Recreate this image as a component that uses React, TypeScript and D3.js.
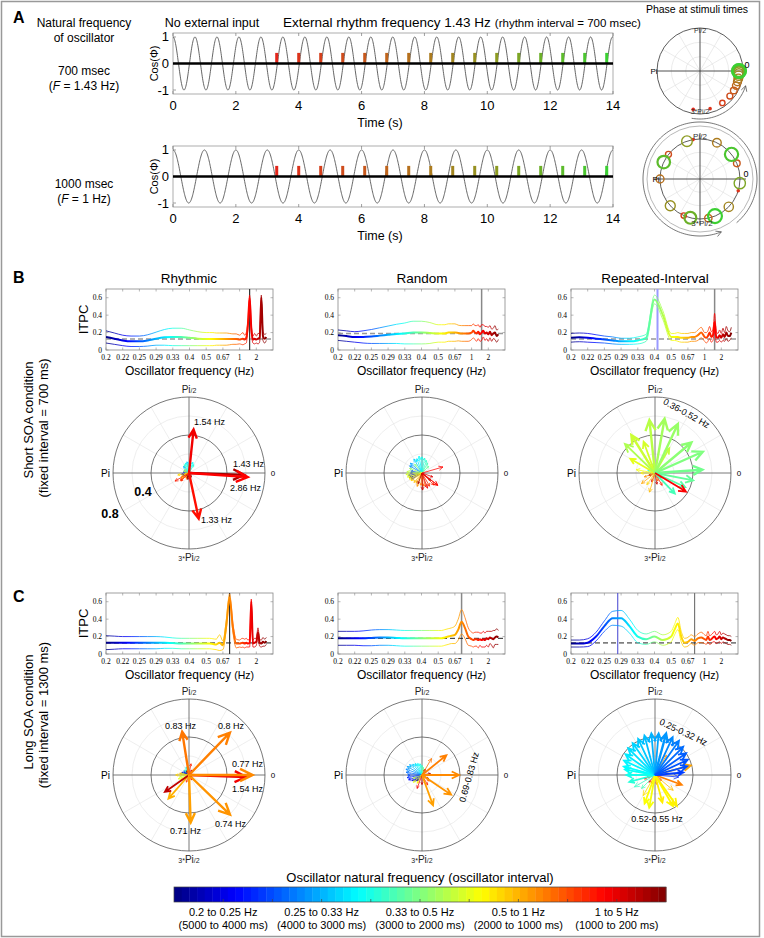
import React from "react";
import * as d3 from "d3";

const FONT = "Arial, 'Liberation Sans', Helvetica, sans-serif";
const SERIF = "'Liberation Serif', 'DejaVu Serif', serif";

// ---------------- Panel A data ----------------
const TIME_TICKS = [0, 2, 4, 6, 8, 10, 12, 14];
const COS_TICKS = [-1, 0, 1];
const OSC_FREQS = [1.43, 1];
const OSC_INTERVALS = ["700 msec", "1000 msec"];
const OSC_F_LABELS = ["1.43 Hz", "1 Hz"];
const STIM_TIMES = [3.3, 4.0, 4.7, 5.4, 6.1, 6.8, 7.5, 8.2, 8.9, 9.6, 10.3, 11.0, 11.7, 12.4, 13.1, 13.8];
const STIM_HEIGHT = 0.4;
const PHASES_700 = [-100, -75, -55, -40, -30, -22, -16, -11, -7, -4, -2, -1, 0, 0, 0, 0];
const PHASES_1000 = [100, 343, 246, 142, 23, 282, 180, 65, 316, 222, 109, 354, 256, 155, 38, 292];

// ---------------- ITPC data (x = oscillator period in ms) ----------------
const PERIODS = [5000, 4750, 4500, 4250, 4000, 3750, 3500, 3250, 3000, 2750, 2500, 2250, 2000,
  1900, 1800, 1700, 1600, 1500, 1400, 1300, 1200, 1100, 1000,
  950, 900, 850, 800, 750, 700, 650, 600, 550, 500, 450, 400, 350, 300, 250, 200];
const TICK_PERIODS = [5000, 4500, 4000, 3500, 3000, 2500, 2000, 1500, 1000, 500];
const TICK_LABELS = ["0.2", "0.22", "0.25", "0.29", "0.33", "0.4", "0.5", "0.67", "1", "2"];
const ITPC_TICKS = [0, 0.2, 0.4, 0.6];

const RHY_SHORT_MEAN = [.15, .13, .11, .10, .10, .11, .13, .145, .15, .15, .14, .13, .125,
  .125, .125, .125, .125, .125, .125, .125, .125, .125, .12,
  .125, .13, .12, .14, .30, .60, .25, .12, .13, .12, .13, .14, .60, .16, .13, .15];
const RHY_SHORT_CI = [.07, .065, .06, .06, .06, .065, .075, .09, .10, .10, .09, .08, .075,
  .075, .075, .07, .07, .07, .07, .065, .06, .06, .05,
  .06, .07, .05, .06, .04, .03, .04, .04, .06, .04, .06, .05, .03, .05, .05, .04];
const RND_SHORT_MEAN = [.17, .16, .15, .15, .155, .165, .175, .185, .19, .20, .20, .195, .19,
  .19, .19, .20, .20, .20, .195, .19, .19, .19, .20,
  .22, .20, .19, .21, .18, .20, .22, .19, .20, .18, .21, .17, .19, .20, .16, .18];
const RND_SHORT_CI = [.06, .06, .06, .07, .08, .09, .10, .11, .12, .13, .13, .12, .10,
  .10, .10, .10, .10, .10, .09, .09, .09, .09, .08,
  .08, .08, .09, .08, .08, .09, .07, .08, .07, .08, .07, .07, .06, .08, .07, .06];
const REP_SHORT_MEAN = [.14, .145, .14, .13, .12, .11, .10, .10, .11, .14, .58, .40, .15,
  .15, .15, .14, .14, .14, .15, .15, .17, .20, .15,
  .14, .16, .20, .15, .17, .32, .15, .14, .17, .14, .18, .15, .20, .16, .16, .20];
const REP_SHORT_CI = [.05, .05, .05, .045, .04, .04, .035, .035, .04, .04, .05, .05, .04,
  .04, .05, .05, .05, .05, .05, .05, .06, .06, .05,
  .06, .06, .07, .06, .06, .10, .06, .05, .06, .05, .07, .05, .07, .06, .05, .06];
const RHY_LONG_MEAN = [.13, .13, .13, .13, .13, .13, .13, .13, .125, .12, .12, .12, .12,
  .12, .115, .11, .13, .10, .33, .65, .30, .12, .12,
  .125, .13, .12, .13, .12, .13, .60, .12, .13, .14, .25, .13, .12, .14, .13, .15];
const RHY_LONG_CI = [.08, .075, .07, .07, .07, .07, .07, .065, .06, .06, .06, .06, .06,
  .06, .06, .06, .09, .05, .05, .04, .05, .05, .04,
  .05, .05, .05, .05, .04, .05, .03, .04, .05, .04, .05, .04, .04, .05, .04, .04];
const RND_LONG_MEAN = [.18, .18, .18, .18, .185, .19, .19, .185, .18, .18, .18, .18, .18,
  .18, .19, .20, .21, .22, .28, .37, .30, .20, .17,
  .16, .17, .17, .16, .17, .16, .17, .16, .18, .17, .19, .18, .17, .19, .20, .19];
const RND_LONG_CI = [.08, .08, .08, .085, .09, .09, .09, .09, .09, .09, .09, .09, .09,
  .09, .09, .09, .09, .10, .12, .14, .12, .10, .08,
  .08, .08, .08, .09, .07, .08, .09, .08, .08, .09, .07, .08, .10, .08, .09, .08];
const REP_LONG_MEAN = [.12, .12, .13, .20, .32, .41, .41, .32, .20, .17, .20, .16, .20,
  .28, .35, .20, .13, .14, .17, .15, .18, .19, .17,
  .16, .20, .16, .17, .19, .20, .17, .18, .20, .17, .19, .18, .17, .16, .16, .15];
const REP_LONG_CI = [.04, .04, .045, .05, .06, .08, .09, .08, .07, .06, .06, .06, .06,
  .06, .07, .06, .05, .05, .05, .05, .05, .06, .05,
  .05, .06, .05, .05, .05, .06, .05, .05, .06, .05, .05, .05, .05, .05, .05, .05];
const THRESHOLDS = [0.127, 0.19, 0.127, 0.127, 0.18, 0.127];

// ---------------- Compass data: [frequency Hz, phase deg, ITPC] ----------------
const RHY_SHORT_ARROWS = [
  [0.30, 100, .12], [0.31, 85, .13], [0.32, 70, .12], [0.33, 110, .11], [0.34, 60, .10], [0.35, 120, .10],
  [0.36, 95, .09], [0.29, 130, .09], [0.27, 150, .06], [0.22, 190, .08], [0.21, 200, .07], [0.24, 170, .06],
  [0.40, 140, .06], [0.45, 160, .06], [0.50, 200, .05], [0.55, 215, .10], [0.60, 190, .12], [0.65, 205, .09],
  [0.70, 235, .06], [0.90, 250, .07], [1.10, 220, .12], [1.18, 225, .12], [1.25, 210, .17], [2.00, 280, .06],
  [2.50, 260, .07], [3.50, 300, .05], [4.00, 250, .05],
  [1.33, -78, .49], [1.54, 84, .46], [2.86, -2, .58], [1.43, -4, .62]];
const RND_SHORT_ARROWS = [
  [0.20, 200, .14], [0.21, 190, .15], [0.22, 210, .13], [0.23, 180, .12], [0.25, 170, .12], [0.27, 150, .15],
  [0.28, 140, .16], [0.30, 120, .17], [0.31, 110, .16], [0.32, 100, .18], [0.33, 90, .17], [0.34, 80, .16],
  [0.35, 70, .14], [0.36, 60, .12], [0.38, 45, .10], [0.40, 130, .12], [0.42, 160, .14], [0.45, 175, .16],
  [0.48, 185, .17], [0.50, 195, .16], [0.55, 205, .15], [0.60, 215, .14], [0.65, 230, .13], [0.70, 240, .12],
  [0.75, 250, .15], [0.80, 265, .13], [0.90, 275, .14], [1.00, 285, .15], [1.10, 300, .16], [1.20, 315, .18],
  [1.30, 322, .21], [1.60, 290, .17], [2.00, 272, .18], [2.50, 320, .12], [3.00, 250, .12], [1.80, 340, .12],
  [1.40, 16, .23], [1.45, -38, .21]];
const REP_SHORT_ARROWS = [
  [0.20, 110, .08], [0.22, 100, .10], [0.25, 80, .07], [0.28, 120, .06], [0.30, 140, .05], [0.33, 160, .08],
  [1.20, 300, .15], [2.00, 280, .12], [1.60, 250, .10], [3.00, 320, .08], [2.50, 200, .07], [1.00, 330, .10],
  [0.90, 290, .09], [0.75, 200, .12], [0.60, 235, .15], [0.70, 218, .18], [0.65, 254, .21], [0.55, 180, .15],
  [0.52, 170, .20], [0.50, 150, .30], [0.48, 110, .35], [0.46, 60, .30], [0.37, -25, .35],
  [0.47, 122, .47], [0.44, 136, .44], [0.45, 96, .56], [0.43, 80, .58], [0.42, 65, .57], [0.41, 40, .50],
  [0.40, 24, .55], [0.39, 4, .50], [0.38, -11, .41], [0.36, -46, .30], [1.45, -31, .38]];
const RHY_LONG_ARROWS = [
  [0.20, 150, .06], [0.22, 160, .08], [0.25, 140, .07], [0.28, 120, .06], [0.30, 100, .08], [0.33, 110, .09],
  [0.36, 130, .07], [0.40, 170, .08], [0.45, 190, .10], [0.50, 200, .12], [0.55, 210, .10], [0.60, 180, .14],
  [0.65, 170, .10], [1.20, 80, .12], [2.00, 60, .06], [3.00, 120, .05], [1.10, 250, .08], [1.30, 300, .06],
  [0.67, 229, .33], [2.20, 215, .31], [0.83, 99, .46], [0.80, 46, .62], [0.74, -44, .60], [0.71, -88, .50],
  [1.54, -2, .60], [0.77, 0, .67]];
const RND_LONG_ARROWS = [
  [0.25, 180, .15], [0.26, 170, .17], [0.27, 160, .18], [0.28, 150, .18], [0.29, 140, .17], [0.30, 130, .15],
  [0.31, 120, .14], [0.32, 110, .13], [0.33, 100, .12], [0.24, 190, .16], [0.23, 200, .15], [0.22, 210, .12],
  [0.21, 220, .10], [0.20, 230, .08], [0.35, 90, .10], [0.38, 80, .08], [0.40, 70, .06], [0.45, 200, .10],
  [0.50, 220, .12], [0.55, 240, .10], [1.20, 300, .12], [1.50, 250, .15], [2.00, 270, .10], [1.00, 320, .10],
  [3.00, 330, .08], [2.50, 10, .09], [1.80, 60, .07], [0.83, 60, .20],
  [0.80, 39, .33], [0.71, -70, .34], [0.74, -34, .37], [0.77, 0, .39]];
const REP_LONG_ARROWS = [
  [1.20, 200, .12], [1.50, 230, .10], [2.00, 250, .10], [3.00, 190, .08], [0.90, 280, .10], [1.10, 320, .09],
  [0.36, 225, .20], [0.35, 210, .25], [0.34, 195, .28], [0.33, 180, .30], [0.325, 170, .32],
  [0.65, -40, .25], [0.80, -20, .30], [0.75, 60, .24], [0.70, 15, .39],
  [0.58, -120, .25], [0.56, -75, .30], [0.53, -110, .32], [0.52, -100, .35], [0.54, -60, .38], [0.55, -55, .40],
  [0.24, -5, .25], [0.245, 5, .30], [0.25, 15, .35],
  [0.32, 165, .34], [0.315, 155, .36], [0.31, 145, .38], [0.305, 135, .40], [0.30, 125, .41], [0.295, 115, .42],
  [0.29, 105, .43], [0.285, 95, .44], [0.28, 85, .44], [0.275, 75, .45], [0.27, 65, .44], [0.265, 55, .44],
  [0.26, 45, .42], [0.255, 35, .40], [0.252, 25, .38]];

// ---------------- Colour bar ----------------
const CB_LABELS = ["0.2 to 0.25 Hz", "0.25 to 0.33 Hz", "0.33 to 0.5 Hz", "0.5 to 1 Hz", "1 to 5 Hz"];
const CB_SUBLABELS = ["(5000 to 4000 ms)", "(4000 to 3000 ms)", "(3000 to 2000 ms)", "(2000 to 1000 ms)", "(1000 to 200 ms)"];
const COLOR_PERIODS = [5000, 4000, 3000, 2000, 1000, 200];

// ---------------- helpers ----------------
const jet = (t) => {
  const c = (v) => Math.max(0, Math.min(1, v));
  const r = c(Math.min(4 * t - 1.5, -4 * t + 4.5));
  const g = c(Math.min(4 * t - 0.5, -4 * t + 3.5));
  const b = c(Math.min(4 * t + 0.5, -4 * t + 2.5));
  return d3.rgb(r * 255, g * 255, b * 255).formatHex();
};
const tOfPeriod = d3.scaleLinear().domain(COLOR_PERIODS).range([0, 0.2, 0.4, 0.6, 0.8, 1]).clamp(true);
const colorOfPeriod = (p) => jet(tOfPeriod(p));
const colorOfFreq = (f) => colorOfPeriod(1000 / f);
const stimColor = d3.scaleLinear().domain([0, 5, 10, 15]).range(["#e3261b", "#c0651c", "#8d9b22", "#3bd032"]);
const rad = (a) => (a * Math.PI) / 180;

function PiText({ x, y, three, anchor = "middle", size = 10 }) {
  return (
    <text x={x} y={y} textAnchor={anchor} fontSize={size} fill="#222">
      {three ? <tspan fontSize={size * 0.7}>3*</tspan> : null}
      <tspan>Pi</tspan>
      <tspan fontSize={size * 0.7}>/2</tspan>
    </text>
  );
}

function WavePanel({ top, freq }) {
  const H = 61;
  const x = d3.scaleLinear().domain([0, 14]).range([173, 613]);
  const y = d3.scaleLinear().domain([-1.15, 1.15]).range([top + H, top]);
  const ts = d3.range(0, 14.0001, 0.01);
  const wave = d3.line().x((t) => x(t)).y((t) => y(Math.cos(2 * Math.PI * freq * t)))(ts);
  return (
    <g>
      <rect x={173} y={top} width={440} height={H} fill="#fff" stroke="#999" strokeWidth={0.8} />
      {TIME_TICKS.map((t) => (
        <g key={t}>
          <line x1={x(t)} x2={x(t)} y1={top + H} y2={top + H - 3} stroke="#777" strokeWidth={0.7} />
          <line x1={x(t)} x2={x(t)} y1={top} y2={top + 3} stroke="#777" strokeWidth={0.7} />
          <text x={x(t)} y={top + H + 16} textAnchor="middle" fontSize={13}>{t}</text>
        </g>
      ))}
      {COS_TICKS.map((v) => (
        <g key={v}>
          <line x1={173} x2={176} y1={y(v)} y2={y(v)} stroke="#777" strokeWidth={0.7} />
          <text x={169} y={y(v) + 4.5} textAnchor="end" fontSize={13}>{v}</text>
        </g>
      ))}
      <path d={wave} fill="none" stroke="#555" strokeWidth={0.9} />
      {STIM_TIMES.map((t, i) => (
        <rect key={i} x={x(t) - 1.5} y={y(STIM_HEIGHT)} width={3} height={y(0) - y(STIM_HEIGHT)} fill={stimColor(i)} />
      ))}
      <line x1={173} x2={613} y1={y(0)} y2={y(0)} stroke="#000" strokeWidth={2.6} />
      <text transform={`translate(158,${y(0)}) rotate(-90)`} textAnchor="middle" fontSize={11}>Cos(Φ)</text>
      <text x={380} y={top + H + 33} textAnchor="middle" fontSize={12.5}>Time (s)</text>
    </g>
  );
}

function PhaseDial({ cx, cy, R, pr, phases, axisExt, rings, arcR, arcFrom, arcTo }) {
  const pt = (r, a) => [cx + r * Math.cos(rad(a)), cy - r * Math.sin(rad(a))];
  const arcPts = d3.range(arcFrom, arcTo + 0.001, 2).map((a) => pt(arcR, a));
  const tip = pt(arcR, arcTo);
  const tang = [-Math.sin(rad(arcTo)), -Math.cos(rad(arcTo))];
  const head = (s) => {
    const ang = Math.atan2(tang[1], tang[0]) + Math.PI + s * 0.5;
    return [tip[0] + 6 * Math.cos(ang), tip[1] + 6 * Math.sin(ang)];
  };
  const h1 = head(1), h2 = head(-1);
  return (
    <g>
      {rings.map((r, i) => (
        <circle key={i} cx={cx} cy={cy} r={r} fill="none" stroke="#999" strokeWidth={0.7} />
      ))}
      {d3.range(0, 360, 30).map((a) => {
        const p = pt(R, a);
        return <line key={a} x1={cx} y1={cy} x2={p[0]} y2={p[1]} stroke="#ddd" strokeWidth={0.6} />;
      })}
      {[R / 3, (2 * R) / 3].map((r, i) => (
        <circle key={i} cx={cx} cy={cy} r={r} fill="none" stroke="#ddd" strokeWidth={0.6} />
      ))}
      <circle cx={cx} cy={cy} r={R} fill="none" stroke="#333" strokeWidth={0.8} />
      <line x1={cx - R - axisExt} x2={cx + R + axisExt} y1={cy} y2={cy} stroke="#333" strokeWidth={0.8} />
      <line x1={cx} x2={cx} y1={cy - R - axisExt} y2={cy + R + axisExt} stroke="#333" strokeWidth={0.8} />
      <path d={d3.line()(arcPts)} fill="none" stroke="#555" strokeWidth={0.8} />
      <path d={`M${h1[0]},${h1[1]}L${tip[0]},${tip[1]}L${h2[0]},${h2[1]}`} fill="none" stroke="#555" strokeWidth={0.8} />
      {phases.map((a, i) => {
        const p = pt(pr, a);
        const col = stimColor(i);
        if (i < 2) return <circle key={i} cx={p[0]} cy={p[1]} r={1.8} fill={col} />;
        const r = 2 + i * 0.33;
        return <circle key={i} cx={p[0]} cy={p[1]} r={r} fill="none" stroke={col} strokeWidth={i > 11 ? 2.2 : 1.4} />;
      })}
    </g>
  );
}

function ItpcPlot({ id, x0, y0, mean, ci, thr, refs, dash, showY }) {
  const W = 167, H = 61;
  const x = d3.scaleLinear().domain([5000, 0]).range([x0, x0 + W]);
  const y = d3.scaleLinear().domain([0, 0.7]).range([y0 + H, y0]);
  const pts = PERIODS.map((p, i) => ({ p, m: mean[i], c: ci[i] }));
  const mk = (f) => d3.line().x((d) => x(d.p)).y((d) => y(f(d))).curve(d3.curveMonotoneX)(pts);
  const stops = d3.range(0, 49).map((k) => {
    const p = 5000 - k * 100;
    return { off: (x(p) - x(5000)) / (x(200) - x(5000)), col: colorOfPeriod(p) };
  });
  return (
    <g>
      <defs>
        <linearGradient id={`g-${id}`} gradientUnits="userSpaceOnUse" x1={x(5000)} x2={x(200)} y1={0} y2={0}>
          {stops.map((s, i) => <stop key={i} offset={s.off} stopColor={s.col} />)}
        </linearGradient>
        <clipPath id={`c-${id}`}><rect x={x0} y={y0} width={W} height={H} /></clipPath>
      </defs>
      <rect x={x0} y={y0} width={W} height={H} fill="#fff" stroke="#888" strokeWidth={0.8} />
      {TICK_PERIODS.map((p, i) => (
        <g key={p}>
          <line x1={x(p)} x2={x(p)} y1={y0 + H} y2={y0 + H - 2.5} stroke="#888" strokeWidth={0.6} />
          <line x1={x(p)} x2={x(p)} y1={y0} y2={y0 + 2.5} stroke="#888" strokeWidth={0.6} />
          <text x={x(p)} y={y0 + H + 10} textAnchor="middle" fontSize={7.5} fontFamily={SERIF}>{TICK_LABELS[i]}</text>
        </g>
      ))}
      {ITPC_TICKS.map((v) => (
        <g key={v}>
          <line x1={x0} x2={x0 + 2.5} y1={y(v)} y2={y(v)} stroke="#888" strokeWidth={0.6} />
          <line x1={x0 + W} x2={x0 + W - 2.5} y1={y(v)} y2={y(v)} stroke="#888" strokeWidth={0.6} />
          <text x={x0 - 4} y={y(v) + 2.5} textAnchor="end" fontSize={7.5} fontFamily={SERIF}>{v}</text>
        </g>
      ))}
      <g clipPath={`url(#c-${id})`}>
        {refs.map((r, i) => (
          <line key={i} x1={x(r[0])} x2={x(r[0])} y1={y0} y2={y0 + H} stroke={r[1]} strokeWidth={r[2]} />
        ))}
        <line x1={x0} x2={x0 + W} y1={y(thr)} y2={y(thr)} stroke={dash[0]} strokeWidth={dash[1]} strokeDasharray="5,3" />
        <path d={mk((d) => d.m + d.c)} fill="none" stroke={`url(#g-${id})`} strokeWidth={0.8} />
        <path d={mk((d) => Math.max(0.005, d.m - d.c))} fill="none" stroke={`url(#g-${id})`} strokeWidth={0.8} />
        <path d={mk((d) => d.m)} fill="none" stroke={`url(#g-${id})`} strokeWidth={2} />
      </g>
      {showY ? (
        <text transform={`translate(88,${y0 + H / 2}) rotate(-90)`} textAnchor="middle" fontSize={13}>ITPC</text>
      ) : null}
      <text x={x0 + W / 2} y={y0 + H + 25} textAnchor="middle" fontSize={12}>
        Oscillator frequency <tspan fontSize={10.5}>(Hz)</tspan>
      </text>
    </g>
  );
}

function Compass({ cx, cy, arrows, children }) {
  const S = 95;
  const rr = d3.scaleLinear().domain([0, 1]).range([0, S]);
  const pt = (v, a) => [cx + rr(v) * Math.cos(rad(a)), cy - rr(v) * Math.sin(rad(a))];
  const R = rr(0.8);
  return (
    <g>
      {d3.range(0, 360, 30).filter((a) => a % 90 !== 0).map((a) => {
        const p = pt(0.8, a);
        return <line key={a} x1={cx} y1={cy} x2={p[0]} y2={p[1]} stroke="#e2e2e2" strokeWidth={0.6} />;
      })}
      {[0.2, 0.6].map((v) => (
        <circle key={v} cx={cx} cy={cy} r={rr(v)} fill="none" stroke="#e2e2e2" strokeWidth={0.6} />
      ))}
      {[0.4, 0.8].map((v) => (
        <circle key={v} cx={cx} cy={cy} r={rr(v)} fill="none" stroke="#555" strokeWidth={0.8} />
      ))}
      <line x1={cx - R} x2={cx + R} y1={cy} y2={cy} stroke="#555" strokeWidth={0.8} />
      <line x1={cx} x2={cx} y1={cy - R} y2={cy + R} stroke="#555" strokeWidth={0.8} />
      <PiText x={cx} y={cy - R - 4} />
      <text x={cx - R - 3} y={cy + 3.5} textAnchor="end" fontSize={10}>Pi</text>
      <text x={cx + R + 8} y={cy + 3} textAnchor="middle" fontSize={8}>0</text>
      <PiText x={cx} y={cy + R + 12} three />
      {arrows.map((d, i) => {
        const [f, a, v] = d;
        const len = rr(v);
        const tip = pt(v, a);
        const h = Math.max(2.5, len * 0.22);
        const back = rad(a) + Math.PI;
        const p1 = [tip[0] + h * Math.cos(back - 0.45), tip[1] - h * Math.sin(back - 0.45)];
        const p2 = [tip[0] + h * Math.cos(back + 0.45), tip[1] - h * Math.sin(back + 0.45)];
        const w = v >= 0.45 ? 2.4 : v >= 0.28 ? 1.8 : 0.9;
        return (
          <path key={i} d={`M${cx},${cy}L${tip[0]},${tip[1]}M${p1[0]},${p1[1]}L${tip[0]},${tip[1]}L${p2[0]},${p2[1]}`}
            fill="none" stroke={colorOfFreq(f)} strokeWidth={w} strokeLinejoin="miter" opacity={v < 0.28 ? 0.85 : 1} />
        );
      })}
      {children}
    </g>
  );
}

export default function App() {
  const colX = [106, 338, 571];
  const polX = [189, 422, 655];
  const cb = d3.scaleLinear().domain([0, 5]).range([174, 666]);
  const bands = d3.range(64);
  return (
    <svg width={764} height={938} style={{ position: "absolute", left: 0, top: 0, background: "#fff" }} fontFamily={FONT}>
      <rect x={0} y={0} width={764} height={938} fill="#fff" />
      <rect x={1.5} y={1.5} width={758} height={935} fill="none" stroke="#999" strokeWidth={1.5} />

      {/* Panel A */}
      <text x={13} y={23} fontSize={16} fontWeight="bold">A</text>
      <text x={84} y={27} textAnchor="middle" fontSize={12}>Natural frequency</text>
      <text x={84} y={42} textAnchor="middle" fontSize={12}>of oscillator</text>
      {OSC_INTERVALS.map((s, i) => (
        <g key={s}>
          <text x={84} y={[75, 188][i]} textAnchor="middle" fontSize={12}>{s}</text>
          <text x={84} y={[90, 203][i]} textAnchor="middle" fontSize={12}>
            (<tspan fontStyle="italic">F</tspan> = {OSC_F_LABELS[i]})
          </text>
        </g>
      ))}
      <text x={212} y={27} textAnchor="middle" fontSize={12.5}>No external input</text>
      <text x={283} y={27} fontSize={13.5}>
        External rhythm frequency 1.43 Hz
        <tspan dx={4} fontSize={11.5}>(rhythm interval = 700 msec)</tspan>
      </text>
      <text x={697} y={13} textAnchor="middle" fontSize={10.5}>Phase at stimuli times</text>
      <WavePanel top={33} freq={OSC_FREQS[0]} />
      <WavePanel top={146} freq={OSC_FREQS[1]} />
      <PhaseDial cx={700} cy={71} R={43} pr={39} phases={PHASES_700} axisExt={0} rings={[]} arcR={48} arcFrom={-100} arcTo={-18} />
      <text x={700} y={33} textAnchor="middle" fontSize={7} fill="#333">Pi/2</text>
      <text x={654} y={74} textAnchor="middle" fontSize={8}>Pi</text>
      <text x={747} y={68} textAnchor="middle" fontSize={9}>0</text>
      <text x={700} y={114} textAnchor="middle" fontSize={7} fill="#333">3*Pi/2</text>
      <PhaseDial cx={700} cy={179} R={40} pr={40} phases={PHASES_1000} axisExt={6} rings={[53]} arcR={57} arcFrom={-410} arcTo={-68} />
      <text x={700} y={139} textAnchor="middle" fontSize={8} fill="#333">Pi/2</text>
      <text x={656} y={182} textAnchor="middle" fontSize={8}>Pi</text>
      <text x={746} y={177} textAnchor="middle" fontSize={9}>0</text>
      <text x={702} y={226} textAnchor="middle" fontSize={8} fill="#333">3*Pi/2</text>

      {/* Panel B */}
      <text x={13} y={283} fontSize={16} fontWeight="bold">B</text>
      {["Rhythmic", "Random", "Repeated-Interval"].map((t, i) => (
        <text key={t} x={polX[i]} y={283} textAnchor="middle" fontSize={13.5}>{t}</text>
      ))}
      <text transform="translate(33,420) rotate(-90)" textAnchor="middle" fontSize={13}>Short SOA condition</text>
      <text transform="translate(48,428) rotate(-90)" textAnchor="middle" fontSize={13}>(fixed interval = 700 ms)</text>
      <ItpcPlot id="b1" x0={colX[0]} y0={289} mean={RHY_SHORT_MEAN} ci={RHY_SHORT_CI} thr={THRESHOLDS[0]} refs={[[700, "#333", 1.2]]} dash={["#999", 1.5]} showY />
      <ItpcPlot id="b2" x0={colX[1]} y0={289} mean={RND_SHORT_MEAN} ci={RND_SHORT_CI} thr={THRESHOLDS[1]} refs={[[700, "#888", 1.5]]} dash={["#999", 1.5]} />
      <ItpcPlot id="b3" x0={colX[2]} y0={289} mean={REP_SHORT_MEAN} ci={REP_SHORT_CI} thr={THRESHOLDS[2]} refs={[[2410, "#9a9aff", 2], [700, "#888", 1.5]]} dash={["#999", 1.5]} />
      <Compass cx={polX[0]} cy={473} arrows={RHY_SHORT_ARROWS}>
        <text x={194} y={425} fontSize={9}>1.54 Hz</text>
        <text x={233} y={467} fontSize={9}>1.43 Hz</text>
        <text x={230} y={491} fontSize={9}>2.86 Hz</text>
        <text x={201} y={523} fontSize={9}>1.33 Hz</text>
        <text x={143} y={496} textAnchor="middle" fontSize={12.5} fontWeight="bold">0.4</text>
        <text x={110} y={518} textAnchor="middle" fontSize={12.5} fontWeight="bold">0.8</text>
      </Compass>
      <Compass cx={polX[1]} cy={473} arrows={RND_SHORT_ARROWS} />
      <Compass cx={polX[2]} cy={473} arrows={REP_SHORT_ARROWS}>
        <text transform="translate(685,416) rotate(29)" textAnchor="middle" fontSize={9}>0.36-0.52 Hz</text>
      </Compass>

      {/* Panel C */}
      <text x={13} y={602} fontSize={16} fontWeight="bold">C</text>
      <text transform="translate(33,712) rotate(-90)" textAnchor="middle" fontSize={13}>Long SOA condition</text>
      <text transform="translate(48,715) rotate(-90)" textAnchor="middle" fontSize={13}>(fixed interval = 1300 ms)</text>
      <ItpcPlot id="c1" x0={colX[0]} y0={593} mean={RHY_LONG_MEAN} ci={RHY_LONG_CI} thr={THRESHOLDS[3]} refs={[[1300, "#333", 1.2]]} dash={["#222", 1]} showY />
      <ItpcPlot id="c2" x0={colX[1]} y0={593} mean={RND_LONG_MEAN} ci={RND_LONG_CI} thr={THRESHOLDS[4]} refs={[[1300, "#888", 1.5]]} dash={["#222", 1]} />
      <ItpcPlot id="c3" x0={colX[2]} y0={593} mean={REP_LONG_MEAN} ci={REP_LONG_CI} thr={THRESHOLDS[5]} refs={[[3600, "#4040d0", 1], [1300, "#777", 1.2]]} dash={["#222", 1]} />
      <Compass cx={polX[0]} cy={775} arrows={RHY_LONG_ARROWS}>
        <text x={165} y={729} fontSize={9}>0.83 Hz</text>
        <text x={218} y={729} fontSize={9}>0.8 Hz</text>
        <text x={232} y={767} fontSize={9}>0.77 Hz</text>
        <text x={232} y={792} fontSize={9}>1.54 Hz</text>
        <text x={215} y={827} fontSize={9}>0.74 Hz</text>
        <text x={170} y={834} fontSize={9}>0.71 Hz</text>
      </Compass>
      <Compass cx={polX[1]} cy={775} arrows={RND_LONG_ARROWS}>
        <text transform="translate(472,778) rotate(-74)" textAnchor="middle" fontSize={9}>0.69-0.83 Hz</text>
      </Compass>
      <Compass cx={polX[2]} cy={775} arrows={REP_LONG_ARROWS}>
        <text transform="translate(682,735) rotate(25)" textAnchor="middle" fontSize={9}>0.25-0.32 Hz</text>
        <text x={657} y={822} textAnchor="middle" fontSize={9}>0.52-0.55 Hz</text>
      </Compass>

      {/* Colour bar */}
      <text x={420} y={882} textAnchor="middle" fontSize={13}>Oscillator natural frequency (oscillator interval)</text>
      {bands.map((i) => (
        <rect key={i} x={174 + (i * 492) / 64} y={887} width={492 / 64 + 0.4} height={15} fill={jet((i + 0.5) / 64)} />
      ))}
      <rect x={174} y={887} width={492} height={15} fill="none" stroke="#444" strokeWidth={0.7} />
      {d3.range(1, 10).map((k) => (
        <line key={k} x1={cb(k / 2)} x2={cb(k / 2)} y1={902} y2={899} stroke="#444" strokeWidth={0.7} />
      ))}
      {CB_LABELS.map((s, i) => (
        <g key={s}>
          <text x={cb(i + 0.5)} y={916} textAnchor="middle" fontSize={11}>{s}</text>
          <text x={cb(i + 0.5)} y={929} textAnchor="middle" fontSize={11}>{CB_SUBLABELS[i]}</text>
        </g>
      ))}
    </svg>
  );
}
